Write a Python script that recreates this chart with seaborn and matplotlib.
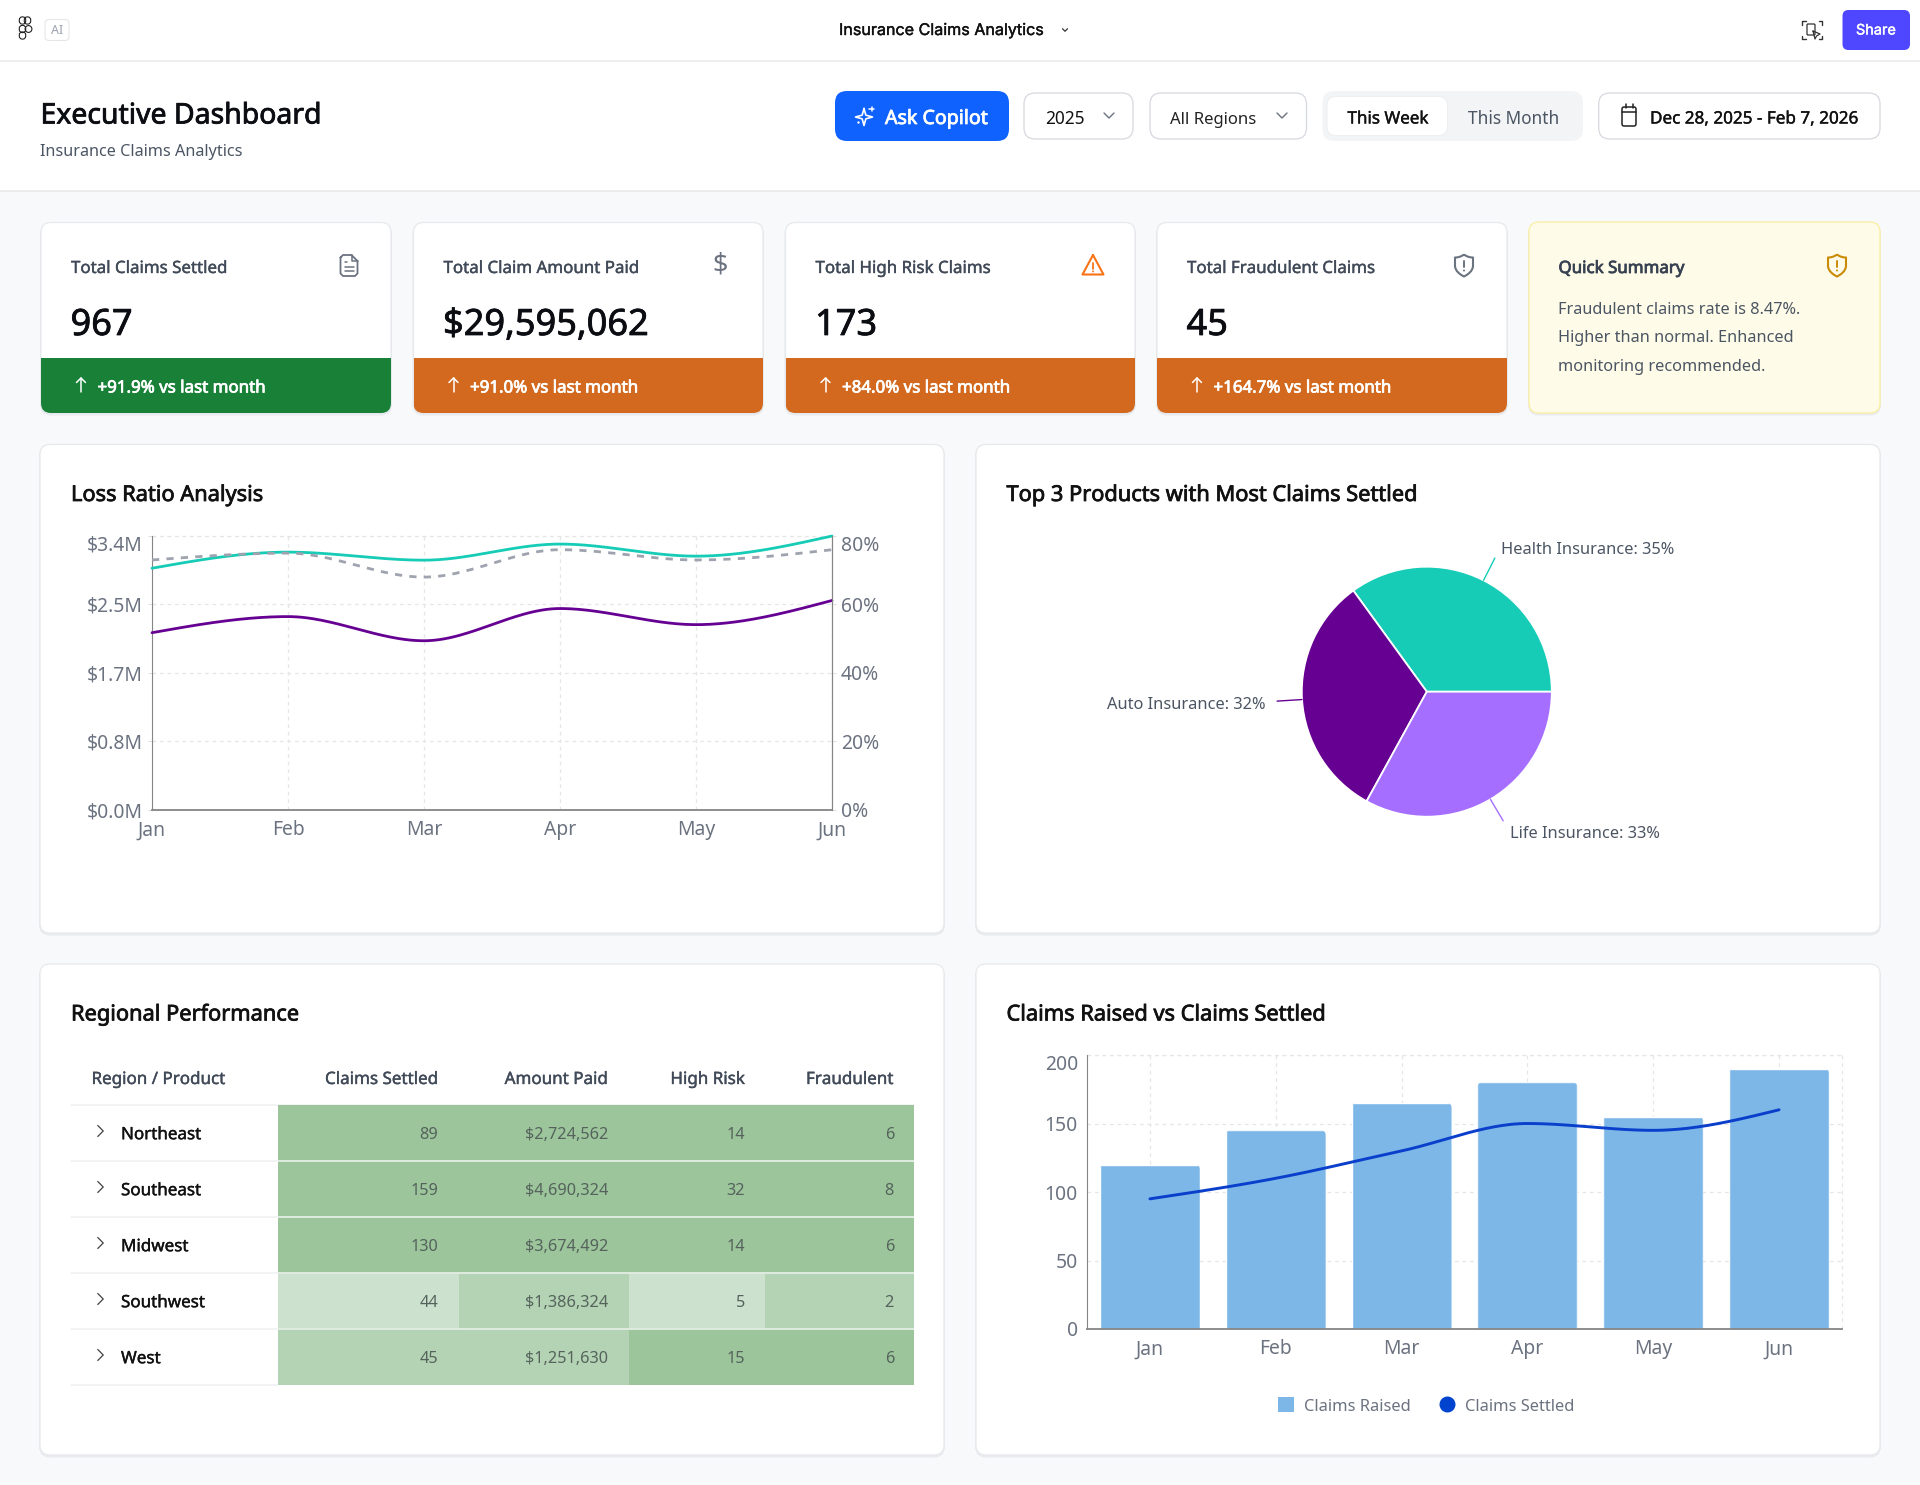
import numpy as np, pandas as pd
import matplotlib
matplotlib.use("Agg")
import matplotlib.pyplot as plt
import matplotlib.patheffects as pe
import seaborn as sns
from matplotlib.patches import FancyBboxPatch, Rectangle, Circle, PathPatch, Patch
from matplotlib.path import Path
from matplotlib.lines import Line2D
from matplotlib.colors import ListedColormap
from matplotlib.transforms import IdentityTransform

# ---------- data ----------
months = ["Jan", "Feb", "Mar", "Apr", "May", "Jun"]
premium_m = [3.0, 3.2, 3.1, 3.3, 3.15, 3.4]
claims_m = [2.2, 2.4, 2.1, 2.5, 2.3, 2.6]
loss_ratio = [73, 75, 68, 76, 73, 76]
left_ticks = [0, 0.85, 1.7, 2.55, 3.4]
left_labels = ["$0.0M", "$0.8M", "$1.7M", "$2.5M", "$3.4M"]
right_ticks = [0, 20, 40, 60, 80]
right_labels = ["0%", "20%", "40%", "60%", "80%"]

products = ["Health Insurance", "Auto Insurance", "Life Insurance"]
product_share = [35, 32, 33]

regions = ["Northeast", "Southeast", "Midwest", "Southwest", "West"]
table_headers = ["Claims Settled", "Amount Paid", "High Risk", "Fraudulent"]
t_settled = ["89", "159", "130", "44", "45"]
t_amount = ["$2,724,562", "$4,690,324", "$3,674,492", "$1,386,324", "$1,251,630"]
t_risk = ["14", "32", "14", "5", "15"]
t_fraud = ["6", "8", "6", "2", "6"]
shade_settled = [2, 2, 2, 0, 1]
shade_amount = [2, 2, 2, 1, 1]
shade_risk = [2, 2, 2, 0, 2]
shade_fraud = [2, 2, 2, 1, 2]

claims_raised = [120, 145, 165, 180, 155, 190]
claims_settled = [95, 110, 130, 150, 145, 160]
bar_ticks = [0, 50, 100, 150, 200]

kpi_titles = ["Total Claims Settled", "Total Claim Amount Paid", "Total High Risk Claims", "Total Fraudulent Claims"]
kpi_values = ["967", "$29,595,062", "173", "45"]
kpi_deltas = ["+91.9% vs last month", "+91.0% vs last month", "+84.0% vs last month", "+164.7% vs last month"]
summary_lines = ["Fraudulent claims rate is 8.47%.", "Higher than normal. Enhanced", "monitoring recommended."]

# ---------- style ----------
TEAL, PURPLE, LAV = "#17CCB6", "#660092", "#A56EFF"
BAR, BLUE = "#7CB7E8", "#0A3FCB"
GREY = "#6B7280"; DARK = "#111318"; MID = "#4B5563"
GRID = "#E6E6E6"; AXC = "#858585"
TICK_PX = 19.3
sns.set_theme(style="white")
plt.rcParams["font.family"] = ["Noto Sans", "DejaVu Sans"]
W, H = 1920, 1485
fig = plt.figure(figsize=(W / 100, H / 100), dpi=100, facecolor="#F8F9FB")


def overlay(z):
    a = fig.add_axes([0, 0, 1, 1], zorder=z)
    a.set_xlim(0, W); a.set_ylim(H, 0); a.axis("off"); a.patch.set_alpha(0)
    return a


bg = overlay(0)
top = overlay(6)


def axpx(x0, y0, x1, y1, z=2):
    a = fig.add_axes([x0 / W, 1 - y1 / H, (x1 - x0) / W, (y1 - y0) / H], zorder=z)
    a.patch.set_alpha(0)
    return a


def T(x, y, s, px, color=DARK, weight=400, ha="left", family="Noto Sans", a=top, dy=2.0):
    t = a.text(x, y + dy, s, fontsize=px * 0.72, color=color, ha=ha, va="center",
               family=[family, "DejaVu Sans"])
    stroke = {500: 0.28, 600: 0.55}.get(weight, 0)
    if stroke:
        t.set_path_effects([pe.withStroke(linewidth=stroke, foreground=color)])
    return t


def box(x0, y0, x1, y1, r, fc, ec="none", lw=0, a=bg, z=1):
    p = FancyBboxPatch((x0, y0), x1 - x0, y1 - y0, boxstyle=f"round,pad=0,rounding_size={r}",
                       fc=fc, ec=ec, lw=lw, zorder=z)
    a.add_patch(p)
    return p


def card(x0, y0, x1, y1, fc="white", ec="#E7E9EC"):
    box(x0 - 1, y0 + 1, x1 + 1, y1 + 2.5, 11, "#E9EBEE", z=1)
    return box(x0, y0, x1, y1, 10, fc, ec, 0.9, z=2)


def poly(pts, color, lw=1.1, a=top, closed=False):
    xs, ys = zip(*(list(pts) + ([pts[0]] if closed else [])))
    a.plot(xs, ys, color=color, lw=lw, solid_capstyle="round", solid_joinstyle="round")


def chev(x, y, s, color, lw=1.0, right=False):
    if right:
        poly([(x - s / 2, y - s), (x + s / 2, y), (x - s / 2, y + s)], color, lw)
    else:
        poly([(x - s, y - s / 2), (x, y + s / 2), (x + s, y - s / 2)], color, lw)


def up_arrow(x, y, color="white"):
    poly([(x, y + 7), (x, y - 7)], color, 1.1)
    poly([(x - 4.5, y - 2.5), (x, y - 7), (x + 4.5, y - 2.5)], color, 1.1)


def shield(x, y, color):
    verts = [(x, y - 11),
             (x + 3, y - 8.7), (x + 6, y - 8), (x + 9, y - 8),
             (x + 9, y - 5), (x + 9, y - 2), (x + 9, y),
             (x + 9, y + 6), (x + 3, y + 9.5), (x, y + 11),
             (x - 3, y + 9.5), (x - 9, y + 6), (x - 9, y),
             (x - 9, y - 2), (x - 9, y - 5), (x - 9, y - 8),
             (x - 6, y - 8), (x - 3, y - 8.7), (x, y - 11)]
    codes = [Path.MOVETO] + [Path.CURVE4] * (len(verts) - 1)
    top.add_patch(PathPatch(Path(verts, codes), fc="none", ec=color, lw=1.5, joinstyle="round"))
    poly([(x, y - 5), (x, y + 1)], color, 1.4)
    top.add_patch(Circle((x, y + 5), 1.0, fc=color, ec="none"))


def sparkle(x, y, color="white"):
    r, k = 8.5, 2.6
    pts = []
    for i in range(8):
        ang = np.pi / 4 * i
        rad = r if i % 2 == 0 else k
        pts.append((x - 1 + rad * np.sin(ang), y + 1 - rad * np.cos(ang)))
    poly(pts, color, 1.2, closed=True)
    poly([(x + 6.5, y - 9.5), (x + 6.5, y - 5)], color, 1.1)
    poly([(x + 4.2, y - 7.2), (x + 8.8, y - 7.2)], color, 1.1)
    top.add_patch(Circle((x - 6.5, y + 6.5), 1.2, fc=color, ec="none"))


def monotone(xs, ys, n=50):
    """Monotone cubic through the data points, as the reference's curve type does."""
    x, y = np.asarray(xs, float), np.asarray(ys, float)
    h = np.diff(x); s = np.diff(y) / h
    t = np.zeros_like(y)
    for i in range(1, len(y) - 1):
        p = (s[i - 1] * h[i] + s[i] * h[i - 1]) / (h[i - 1] + h[i])
        t[i] = (np.sign(s[i - 1]) + np.sign(s[i])) * min(abs(s[i - 1]), abs(s[i]), 0.5 * abs(p))
    t[0] = (3 * s[0] - t[1]) / 2
    t[-1] = (3 * s[-1] - t[-2]) / 2
    out_x, out_y = [], []
    for i in range(len(y) - 1):
        u = np.linspace(0, 1, n)
        h00 = 2 * u**3 - 3 * u**2 + 1; h10 = u**3 - 2 * u**2 + u
        h01 = -2 * u**3 + 3 * u**2; h11 = u**3 - u**2
        out_x.append(x[i] + u * h[i])
        out_y.append(h00 * y[i] + h10 * h[i] * t[i] + h01 * y[i + 1] + h11 * h[i] * t[i + 1])
    return np.concatenate(out_x), np.concatenate(out_y)


# ---------- page chrome ----------
bg.add_patch(Rectangle((0, 0), W, 191, fc="white", ec="none", zorder=0))
bg.plot([0, W], [60.5, 60.5], color="#E8E9EB", lw=1.1, zorder=1)
bg.plot([0, W], [191, 191], color="#E8E9EB", lw=1.1, zorder=1)

# top bar
for (cx, cy, ww) in [(22.5, 20.5, 5), (27.5, 20.5, 5), (22.5, 29, 5), (22.5, 35.5, 5)]:
    box(cx - 3.2, cy - 3.6, cx + 3.2, cy + 3.6, 3, "none", "#222", 0.8, a=top)
top.add_patch(Circle((28.5, 29), 3.4, fc="none", ec="#222", lw=0.8))
box(45, 19.5, 69, 40.5, 4, "white", "#E5E7EB", 0.8, a=top)
T(57, 30, "AI", 12.5, "#9CA3AF", ha="center", dy=0.5)
T(839, 30, "Insurance Claims Analytics", 16.1, "#111", 500, family="Inter", dy=0.5)
chev(1065, 30, 2.5, "#333", 0.9)
for sx, sy in [(1, 1), (-1, 1), (1, -1), (-1, -1)]:
    cx, cy = 1812 - sx * 10, 30 - sy * 9
    poly([(cx, cy + sy * 3.5), (cx, cy), (cx + sx * 3.5, cy)], "#333", 1.0)
box(1807, 24, 1815, 35, 1, "none", "#333", 0.9, a=top, z=7)
poly([(1813, 31), (1820, 34), (1816.5, 36), (1815, 39)], "#333", 0.9, closed=True)
box(1842.5, 10, 1910, 50, 6, "#4F46FF", a=bg)
T(1876, 30, "Share", 14.5, "white", 500, ha="center", family="Inter", dy=0.5)

# header
T(40.5, 112.5, "Executive Dashboard", 28.4, "#0B0D12", 600, dy=3.5)
T(40, 150, "Insurance Claims Analytics", 16.2, MID, dy=1.5)
box(835, 91, 1009, 141, 12, "#0F62FE")
sparkle(865, 116)
T(885, 117, "Ask Copilot", 19.6, "white", 600)
box(1024, 93, 1133, 139, 11, "white", "#D5D8DD", 0.9)
T(1045, 117.5, "2025", 17.3, "#111")
chev(1109, 115.5, 5, GREY, 1.0)
box(1150, 93, 1306.5, 139, 11, "white", "#D5D8DD", 0.9)
T(1170.5, 117.5, "All Regions", 16.7, "#222")
chev(1282, 115.5, 5, GREY, 1.0)
box(1322.5, 91, 1583, 141, 12, "#F3F4F6")
box(1327, 96.5, 1447.5, 135.5, 9, "white", "#ECEDEF", 0.6, z=3)
T(1347.5, 117.5, "This Week", 17.0, "#111", 500)
T(1468, 117.5, "This Month", 17.2, MID)
box(1598.7, 93, 1880, 139, 11, "white", "#D5D8DD", 0.9)
box(1622, 107, 1636, 126, 2, "none", "#222", 1.1, a=top)
poly([(1622, 112), (1636, 112)], "#222", 1.1)
poly([(1625.5, 104), (1625.5, 108)], "#222", 1.1)
poly([(1632.5, 104), (1632.5, 108)], "#222", 1.1)
T(1650, 117.5, "Dec 28, 2025 - Feb 7, 2026", 17.1, "#111", 500)

# ---------- KPI cards ----------
card_x = [(41, 391), (413.5, 763), (785.5, 1135), (1157, 1507)]
band_c = ["#198038", "#D2691E", "#D2691E", "#D2691E"]
for (x0, x1), ttl, val, dl, bc in zip(card_x, kpi_titles, kpi_values, kpi_deltas, band_c):
    c = card(x0, 222.5, x1, 413)
    b = Rectangle((x0, 358), x1 - x0, 56, fc=bc, ec="none", zorder=3)
    bg.add_patch(b); b.set_clip_path(c)
    T(x0 + 30, 266.5, ttl, 16.9, "#414A58", 500, dy=2.5)
    T(x0 + 29.5, 322.5, val, 36.2, "#0B0D12", 600, dy=3.5)
    up_arrow(x0 + 40, 385)
    T(x0 + 56.5, 386.5, dl, 16.9, "white", 600)

# doc icon
dx = 348.5; dy = 265.5
poly([(dx - 8, dy - 8), (dx - 5.5, dy - 10.5), (dx + 3, dy - 10.5), (dx + 9, dy - 4.5), (dx + 9, dy + 8),
      (dx + 6.5, dy + 10.5), (dx - 5.5, dy + 10.5), (dx - 8, dy + 8)], GREY, 1.3, closed=True)
poly([(dx + 3, dy - 10.5), (dx + 3, dy - 4.5), (dx + 9, dy - 4.5)], GREY, 1.1)
for yy, xe in [(dy - 3.5, dx - 2), (dy + 1.5, dx + 5), (dy + 5.5, dx + 5)]:
    poly([(dx - 4, yy), (xe, yy)], GREY, 1.1)
# dollar icon
T(720.3, 265.5, "$", 27, GREY, ha="center", dy=0)
# warning icon
wx, wy = 1093, 265.5
poly([(wx, wy - 10.5), (wx + 10.5, wy + 9), (wx - 10.5, wy + 9)], "#F97316", 1.5, closed=True)
poly([(wx, wy - 3), (wx, wy + 3)], "#F97316", 1.3)
top.add_patch(Circle((wx, wy + 6), 0.9, fc="#F97316", ec="none"))
shield(1464, 265.5, GREY)

# quick summary
card(1529, 222, 1880, 413, "#FEFCE8", "#FBEFA0")
T(1558.5, 267, "Quick Summary", 16.9, "#374151", 600)
shield(1837, 265.5, "#CA8A04")
for yy, ln in zip([308, 336, 365], summary_lines):
    T(1558.5, yy, ln, 16.3, MID)

# ---------- panels ----------
card(40, 444.5, 944, 933)
card(976, 444.5, 1880, 933)
card(40, 964, 944, 1455)
card(976, 964, 1880, 1455)
T(71, 493, "Loss Ratio Analysis", 21.8, "#111", 600, dy=2.5)
T(1006.5, 493, "Top 3 Products with Most Claims Settled", 21.8, "#111", 600, dy=2.5)
T(71, 1012.5, "Regional Performance", 21.8, "#111", 600, dy=2.5)
T(1006.5, 1012.5, "Claims Raised vs Claims Settled", 21.8, "#111", 600, dy=2.5)


def style_axis(a, sides=("left", "bottom")):
    for k, sp in a.spines.items():
        sp.set_visible(k in sides)
        sp.set_color(AXC)
        sp.set_linewidth(0.8 if k != "bottom" else 1.3)
    a.tick_params(axis="both", colors=GREY, labelsize=TICK_PX * 0.72, length=3, width=0.7, color="#DDDDDD")


# ---------- loss ratio ----------
ax = axpx(152, 536, 832, 810)
xs = np.arange(len(months))
for a_ser, colr in [(premium_m, TEAL), (claims_m, PURPLE)]:
    dx_, dy_ = monotone(xs, a_ser)
    sns.lineplot(x=dx_, y=dy_, ax=ax, color=colr, lw=2.0, estimator=None, sort=False, clip_on=False, zorder=4)
ax.set_xlim(0, 5); ax.set_ylim(0, 3.4)
ax.set_xticks(xs, months); ax.set_yticks(left_ticks, left_labels)
ax.grid(True, color=GRID, ls=(0, (3, 3)), lw=0.9); ax.set_axisbelow(True)
style_axis(ax, ("left", "bottom", "right"))
ax.tick_params(axis="x", pad=4.5); ax.tick_params(axis="y", pad=3.5, length=3)
ax2 = ax.twinx(); ax2.patch.set_alpha(0)
dx_, dy_ = monotone(xs, loss_ratio)
sns.lineplot(x=dx_, y=dy_, ax=ax2, color="#9EA3AF", lw=2.0, ls=(0, (2.6, 2.6)), estimator=None, sort=False, zorder=3)
ax2.set_ylim(0, 80); ax2.set_xlim(0, 5)
ax2.set_yticks(right_ticks, right_labels); ax2.set_ylabel("")
style_axis(ax2, ("right",))
ax2.tick_params(axis="y", pad=3.5, length=3)
ax.get_yticklabels()[-1].set_va("top"); ax2.get_yticklabels()[-1].set_va("top")
ax.plot([0, 5], [3.4, 3.4], color=GRID, ls=(0, (3, 3)), lw=0.9, clip_on=False, zorder=1)

# ---------- pie ----------
pcx, pcy = 1426.8, 691.7
pa = axpx(pcx - 220, pcy - 220, pcx + 220, pcy + 220)
colors_pie = [TEAL, PURPLE, LAV]
pa.pie(product_share, colors=colors_pie, startangle=0, counterclock=True, radius=125,
       wedgeprops=dict(edgecolor="white", linewidth=1.3))
pa.set_xlim(-220, 220); pa.set_ylim(-220, 220); pa.set_aspect("equal")
acc = 0
for nm, sh, colr in zip(products, product_share, colors_pie):
    mid = np.deg2rad((acc + sh / 2) * 3.6); acc += sh
    cs, sn = np.cos(mid), np.sin(mid)
    pa.plot([125 * cs, 150 * cs], [125 * sn, 150 * sn], color=colr, lw=1.0)
    pa.text(150 * cs + (6.5 if cs > 0 else -12), 150 * sn + (8 if sn > 0.5 else -4 if sn > -0.5 else -13),
            f"{nm}: {sh}%", fontsize=16.4 * 0.72, color=MID, ha="left" if cs > 0 else "right", va="center")

# ---------- table ----------
col_edges = [278, 459, 629, 765, 914]
col_texts = [t_settled, t_amount, t_risk, t_fraud]
col_shades = [shade_settled, shade_amount, shade_risk, shade_fraud]
heat_cmap = ListedColormap(["#CCE2CE", "#B4D3B4", "#9CC59C"])
row_top, row_h = 1104.5, 56.0
rows_y = [row_top + row_h * (i + 0.5) for i in range(len(regions))]
for i in range(4):
    ha_ = axpx(col_edges[i], row_top, col_edges[i + 1], row_top + row_h * 5)
    sns.heatmap(pd.DataFrame({"v": col_shades[i]}), ax=ha_, cmap=heat_cmap, vmin=0, vmax=2, cbar=False,
                xticklabels=False, yticklabels=False, linewidths=0)
    ha_.hlines(range(1, 5), 0, 1, color="#E3EDE3", lw=1.3)
    xr = col_edges[i + 1] - (21 if i < 2 else 20)
    T(xr, 1078, table_headers[i], 17.0, "#414A58", 500, ha="right")
    for yy, s in zip(rows_y, col_texts[i]):
        T(xr, yy + 1.2, s, 16.3, "#55635C", ha="right", dy=1.5)
T(91.5, 1078, "Region / Product", 17.0, "#414A58", 500)
for k in range(6):
    yy = row_top + row_h * k
    bg.plot([71, 278 if k else 914], [yy, yy], color="#EFF0F2", lw=1.1, zorder=3)
for yy, r in zip(rows_y, regions):
    chev(100.5, yy - 1.5, 5.5, "#444", 0.9, right=True)
    T(121, yy + 1.2, r, 17.0, "#111", 500, dy=1.5)

# ---------- bars ----------
bx = axpx(1087, 1055, 1842, 1329)
df_bar = pd.DataFrame({"month": months, "raised": claims_raised})
sns.barplot(data=df_bar, x="month", y="raised", ax=bx, color=BAR, saturation=1, width=0.795, zorder=2)
dx_, dy_ = monotone(range(len(months)), claims_settled)
sns.lineplot(x=dx_, y=dy_, ax=bx, color=BLUE, lw=2.1, estimator=None, sort=False, zorder=4)
bx.set_xlim(-0.5, 5.5); bx.set_ylim(0, 200)
bx.set_yticks(bar_ticks, [str(v) for v in bar_ticks]); bx.set_xlabel(""); bx.set_ylabel("")
bx.grid(True, color=GRID, ls=(0, (3, 3)), lw=0.9); bx.set_axisbelow(True)
style_axis(bx)
bx.tick_params(axis="x", pad=4.5); bx.tick_params(axis="y", pad=3.5)
bx.get_yticklabels()[-1].set_va("top")
bx.axvline(5.5, color=GRID, ls=(0, (3, 3)), lw=0.9, clip_on=False)
bx.axhline(200, color=GRID, ls=(0, (3, 3)), lw=0.9, clip_on=False)
fig.canvas.draw()
for rect in bx.patches:
    (x0, y0), (x1, y1) = bx.transData.transform([(rect.get_x(), 0), (rect.get_x() + rect.get_width(), rect.get_height())])
    clip = FancyBboxPatch((x0, y0 - 10), x1 - x0, y1 - y0 + 10, boxstyle="round,pad=0,rounding_size=5",
                          transform=IdentityTransform())
    rect.set_clip_path(clip)
handles = [Patch(fc=BAR, ec="none", label="Claims Raised"),
           Line2D([], [], ls="none", marker="o", ms=10.5, mfc="#0043CE", mec="#0043CE", label="Claims Settled")]
leg = bx.legend(handles=handles, ncol=2, frameon=False, loc="center", bbox_to_anchor=(1426 / W, 1 - 1406 / H),
                bbox_transform=fig.transFigure, fontsize=16.5 * 0.72, labelcolor=GREY,
                handlelength=1.0, handleheight=1.0, handletextpad=0.6, columnspacing=1.7, borderpad=0)

fig.savefig("out.png", dpi=100, facecolor=fig.get_facecolor())
